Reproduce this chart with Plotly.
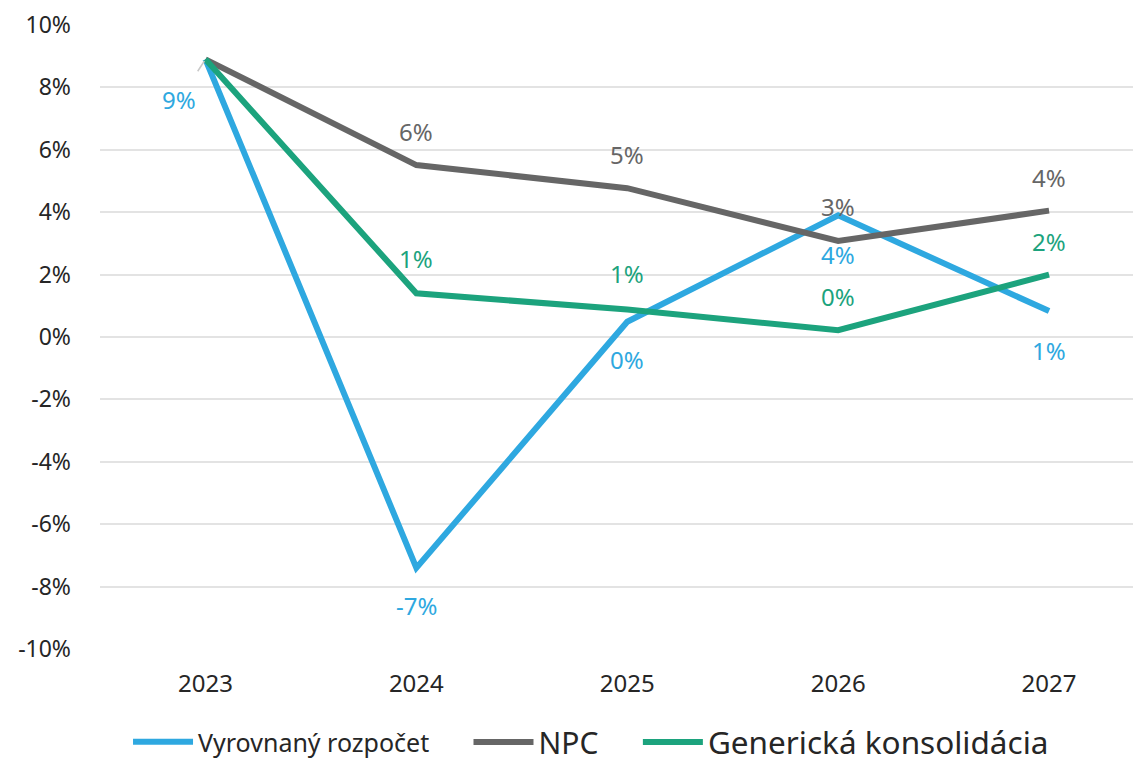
import plotly.graph_objects as go

years = ["2023", "2024", "2025", "2026", "2027"]
vyrovnany = [8.9, -7.4, 0.49, 3.9, 0.83]
npc = [8.9, 5.51, 4.77, 3.08, 4.05]
generic = [8.9, 1.40, 0.88, 0.22, 2.0]
y_ticks = [-10, -8, -6, -4, -2, 0, 2, 4, 6, 8, 10]

names = ["Vyrovnaný rozpočet", "NPC", "Generická konsolidácia"]
colors = ["#2EA8E0", "#666666", "#1CA37D"]
FONT = "Noto Sans"

fig = go.Figure()
legend_ids = ["legend", "legend2", "legend3"]
for name, vals, col, lg in zip(names, [vyrovnany, npc, generic], colors, legend_ids):
    fig.add_trace(go.Scatter(
        x=years, y=vals, mode="lines", name=name, legend=lg,
        line=dict(color=col, width=6), cliponaxis=False,
    ))

ann = []
label_specs = [
    (vyrovnany, colors[0], [None, -38, -38, -39, -39]),
    (npc, colors[1], [None, 34, 34, 34, 33]),
    (generic, colors[2], [None, 35, 36, 34, 33]),
]
for vals, col, shifts in label_specs:
    for i, (v, s) in enumerate(zip(vals, shifts)):
        if s is None:
            continue
        ann.append(dict(x=i, y=v, xref="x", yref="y", text=f"{round(v):.0f}%",
                        showarrow=False, yshift=s,
                        font=dict(family=FONT, size=24, color=col)))

ann.append(dict(x=0, y=vyrovnany[0], xref="x", yref="y",
                text=f"{round(vyrovnany[0]):.0f}%",
                showarrow=True, ax=-26, ay=40, arrowhead=0, arrowwidth=1.5,
                arrowcolor="#C8C8C8", standoff=2, startstandoff=12,
                font=dict(family=FONT, size=24, color=colors[0])))

def leg(x, size):
    return dict(orientation="h", x=x, xanchor="left", xref="container",
                y=0.03, yref="container", yanchor="middle", itemwidth=60,
                font=dict(family=FONT, size=size, color="#262626"),
                bgcolor="rgba(0,0,0,0)")

fig.update_layout(
    width=1133, height=765,
    margin=dict(l=100, r=0, t=25, b=116, autoexpand=False),
    plot_bgcolor="white", paper_bgcolor="white",
    font=dict(family=FONT, size=24, color="#262626"),
    annotations=ann,
    showlegend=True,
    legend=leg(0.113, 25),
    legend2=leg(0.4135, 30),
    legend3=leg(0.563, 31.5),
    xaxis=dict(type="category", range=[-0.5, 4.398], showgrid=False, zeroline=False,
               showline=False, ticks="", tickfont=dict(size=24, color="#262626"),
               ticklabelstandoff=18),
    yaxis=dict(range=[-10, 10], tickvals=y_ticks, ticktext=[f"{t}%" for t in y_ticks],
               showgrid=True, gridcolor="#E3E3E3", gridwidth=2, zeroline=False,
               showline=False, ticks="", tickfont=dict(size=23, color="#262626"),
               ticklabelstandoff=28),
)

fig.write_html("out.html", config={"displayModeBar": False},
               post_script="document.body.style.margin='0';document.body.style.overflow='hidden';")
